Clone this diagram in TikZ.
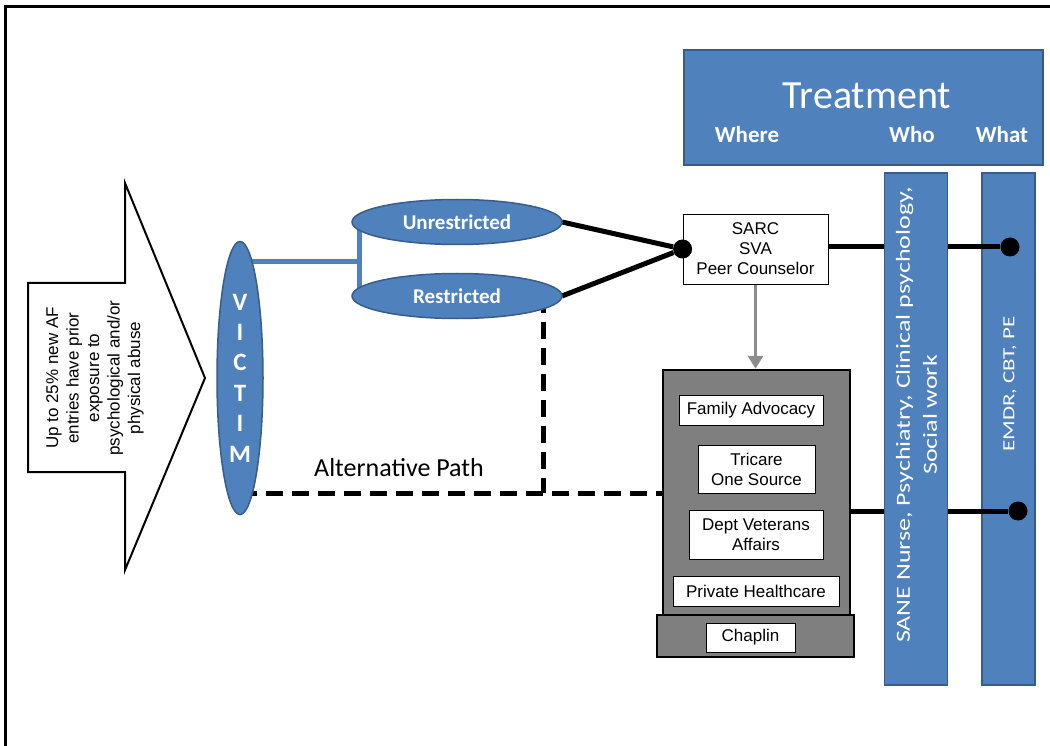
\documentclass[tikz,border=0pt]{standalone}
\usepackage{fontspec}
\setmainfont{Liberation Sans}
\newfontfamily\calibri{Carlito}
\usetikzlibrary{arrows.meta,shapes.geometric,positioning,backgrounds}
\definecolor{boxblue}{HTML}{4F81BD}
\definecolor{edgeblue}{HTML}{385D8A}
\definecolor{shade}{HTML}{7F7F7F}
\definecolor{arrowgray}{HTML}{8C8C8C}

\begin{document}
\begin{tikzpicture}[x=1pt,y=-1pt,
  bluebox/.style={draw=edgeblue,line width=1.5pt,fill=boxblue,text=white,inner sep=0pt,outer sep=0pt},
  oval/.style={ellipse,bluebox,minimum width=210pt,minimum height=45pt,font=\calibri\bfseries\fontsize{21}{24}\selectfont},
  card/.style={draw=black,line width=0.8pt,fill=white,inner sep=0pt,align=center,font=\fontsize{17}{20}\selectfont},
  greybox/.style={draw=black,line width=2.5pt,fill=shade,inner sep=0pt},
  colhead/.style={anchor=base,text=white,font=\calibri\bfseries\fontsize{23}{25}\selectfont},
  link/.style={line width=5pt},
  altpath/.style={line width=5pt,dash pattern=on 17pt off 9pt},
  fork/.style={boxblue,line width=5pt},
  joint/.style={circle,fill=black,inner sep=0pt,minimum size=19pt}]
  \useasboundingbox (0,0) rectangle (1050,746);
  \draw[line width=3pt] (5,746) -- (5,7) -- (1050,7);
  % prior abuse arrow
  \draw[line width=2pt,fill=white] (28,283) -- (125,283) -- (125,183) -- (205,378)
    -- (125,570) -- (125,472) -- (28,472) -- cycle;
  \node[rotate=90,align=center,font=\fontsize{17}{20.5}\selectfont] (prior) at (95,378)
    {Up to 25\% new AF\\entries have prior\\exposure to\\psychological and/or\\physical abuse};
  % victim and reporting options
  \node[ellipse,bluebox,minimum width=46pt,minimum height=273pt,align=center,
    font=\calibri\bfseries\fontsize{25}{30.4}\selectfont] (victim) at (240,378) {V\\I\\C\\T\\I\\M};
  \node[oval] (unres) at (457,222) {Unrestricted};
  \node[oval] (res) at (457,296) {Restricted};
  \node[card,minimum width=145pt,minimum height=70pt] (sarc) at (755.5,249) {SARC\\SVA\\Peer Counselor};
  % where
  \node[greybox,minimum width=197pt,minimum height=42pt] (base) at (755.5,636) {};
  \node[greybox,minimum width=187pt,minimum height=245pt] (where) at (756.5,492.5) {};
  \node[card,minimum width=144pt,minimum height=30pt] (fam) at (751,410) {Family Advocacy};
  \node[card,minimum width=117pt,minimum height=48pt] (tri) at (756.5,469) {Tricare\\One Source};
  \node[card,minimum width=134pt,minimum height=49pt] (dept) at (756,534.5) {Dept Veterans\\Affairs};
  \node[card,minimum width=166pt,minimum height=30pt] (priv) at (756,591) {Private Healthcare};
  \node[card,minimum width=89pt,minimum height=29pt] (chap) at (750.5,637.5) {Chaplin};
  % treatment header and columns
  \node[bluebox,minimum width=359pt,minimum height=115pt] (treat) at (863.5,107.5) {};
  \node[anchor=base,text=white,font=\calibri\fontsize{40}{44}\selectfont] (title) at (867,109) {Treatment};
  \node[colhead] (hwhere) at (747,143) {Where};
  \node[colhead] (hwho) at (912,143) {Who};
  \node[colhead] (hwhat) at (1002,143) {What};
  \node[bluebox,minimum width=63pt,minimum height=512pt] (who) at (916,429) {};
  \node[bluebox,minimum width=53pt,minimum height=512pt] (what) at (1008.5,429) {};
  \node[rotate=90,text=white,font=\calibri\fontsize{20}{27}\selectfont] (whotext) at (918,415)
    {\scalebox{1.3}[1]{\begin{tabular}{@{}c@{}}SANE Nurse, Psychiatry, Clinical psychology,\\Social work\end{tabular}}};
  \node[rotate=90,text=white,font=\calibri\fontsize{17}{20}\selectfont] (whattext) at (1010,384)
    {\scalebox{1.35}[1]{EMDR, CBT, PE}};
  \node[joint] (jsarc) at (sarc.west) {};
  \node[joint] (jtop) at (1010,247) {};
  \node[joint] (jlow) at (1018,511) {};
  \draw[link] (who.east |- jtop) -- (jtop);
  \draw[link] (who.east |- jlow) -- (jlow);
  \coordinate (split) at (359,262);
  \coordinate (drop) at (543,493);
  \node[anchor=base,font=\calibri\fontsize{26}{28}\selectfont] (altlabel) at (399,476) {Alternative Path};
  \begin{scope}[on background layer]
    \draw[fork] (victim.center |- split) -- (split);
    \draw[fork] (unres.center -| split) -- (res.center -| split);
    \draw[link] (unres.east) -- (jsarc);
    \draw[link] (res.east) -- (jsarc);
    \draw[link] (sarc.east |- jtop) -- (who.center |- jtop);
    \draw[link] (where.east |- jlow) -- (who.center |- jlow);
    \draw[altpath] (res.center -| drop) -- (drop);
    \draw[altpath] (victim.center |- drop) -- (where.west |- drop);
    \draw[arrowgray,line width=3pt,-{Triangle[width=15pt,length=13pt]}] (sarc.south) -- (sarc.south |- where.north);
  \end{scope}
\end{tikzpicture}
\end{document}
